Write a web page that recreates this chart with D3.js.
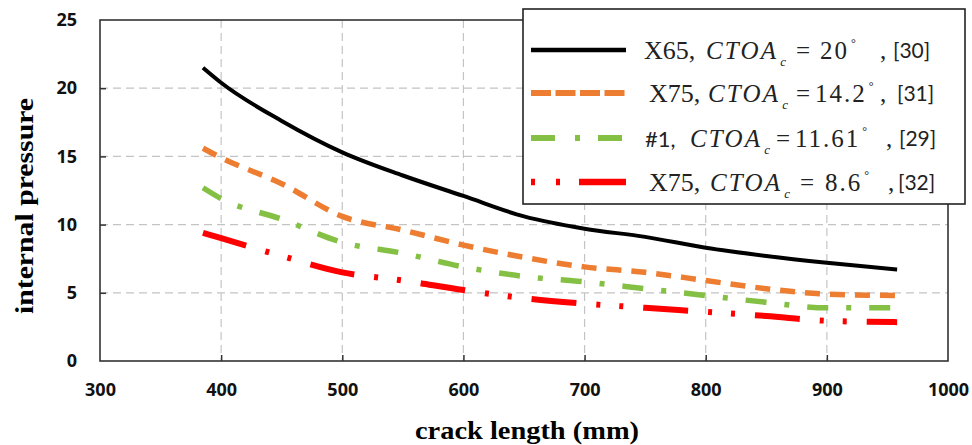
<!DOCTYPE html>
<html>
<head>
<meta charset="utf-8">
<script src="https://cdn.jsdelivr.net/npm/d3@7"></script>
<style>
  body { margin: 0; background: #fff; }
  svg { display: block; }
</style>
</head>
<body>
<div id="chart-area"></div>
<script>
// data
const crackLength = [385, 400, 450, 500, 550, 600, 650, 700, 750, 800, 850, 900, 958]
const x65Ctoa20 = [21.5, 20.4, 17.6, 15.3, 13.6, 12.1, 10.6, 9.7, 9.1, 8.3, 7.7, 7.2, 6.7]
const x75Ctoa142 = [15.6, 14.9, 13.0, 10.6, 9.6, 8.5, 7.6, 6.9, 6.5, 5.9, 5.3, 4.9, 4.8]
const no1Ctoa1161 = [12.7, 11.9, 10.4, 8.7, 7.9, 6.9, 6.2, 5.8, 5.3, 4.8, 4.3, 3.9, 3.9]
const x75Ctoa86 = [9.4, 9.0, 7.7, 6.5, 5.9, 5.2, 4.6, 4.2, 3.9, 3.6, 3.3, 2.95, 2.85]

const seriesNames = ["X65", "X75", "#1", "X75"]
const ctoaValues = ["20", "14.2", "11.61", "8.6"]
const refs = ["[30]", "[31]", "[29]", "[32]"]

const xTicks = [300, 400, 500, 600, 700, 800, 900, 1000]
const yTicks = [0, 5, 10, 15, 20, 25]

const MARGIN = { LEFT: 100, RIGHT: 24, TOP: 20, BOTTOM: 84 }
const WIDTH = 972 - MARGIN.LEFT - MARGIN.RIGHT
const HEIGHT = 445 - MARGIN.TOP - MARGIN.BOTTOM

const svg = d3.select("#chart-area").append("svg")
  .attr("width", 972)
  .attr("height", 445)

const g = svg.append("g")
  .attr("transform", `translate(${MARGIN.LEFT}, ${MARGIN.TOP})`)

const x = d3.scaleLinear().domain([300, 1000]).range([0, WIDTH])
const y = d3.scaleLinear().domain([0, 25]).range([HEIGHT, 0])

// grid
g.append("g").selectAll("line")
  .data(xTicks.filter(d => d > 300 && d < 1000))
  .enter().append("line")
  .attr("x1", d => x(d)).attr("x2", d => x(d))
  .attr("y1", 0).attr("y2", HEIGHT)
  .attr("stroke", "#c4c4c4").attr("stroke-width", 1.2)
  .attr("stroke-dasharray", "8,5")
g.append("g").selectAll("line")
  .data(yTicks.filter(d => d > 0 && d < 25))
  .enter().append("line")
  .attr("x1", 0).attr("x2", WIDTH)
  .attr("y1", d => y(d)).attr("y2", d => y(d))
  .attr("stroke", "#c4c4c4").attr("stroke-width", 1.2)
  .attr("stroke-dasharray", "8,5")

// axes
const xAxisCall = d3.axisBottom(x).tickValues(xTicks).tickFormat(d3.format("d"))
  .tickSizeInner(-6).tickSizeOuter(0).tickPadding(22)
const xAxis = g.append("g")
  .attr("transform", `translate(0, ${HEIGHT})`)
  .call(xAxisCall)
const yAxisCall = d3.axisLeft(y).tickValues(yTicks).tickSizeInner(-6).tickSizeOuter(0).tickPadding(23)
const yAxis = g.append("g").call(yAxisCall)

;[xAxis, yAxis].forEach(a => {
  a.select(".domain").remove()
  a.selectAll(".tick line").attr("stroke", "#333").attr("stroke-width", 1.5)
  a.selectAll("text")
    .attr("font-family", "'Open Sans', Lato, sans-serif")
    .attr("font-weight", "bold")
    .attr("font-size", "18px")
    .attr("fill", "#111")
})
xAxis.selectAll(".tick").filter(d => d === 300 || d === 1000).select("line").remove()
yAxis.selectAll(".tick").filter(d => d === 0 || d === 25).select("line").remove()

g.append("rect")
  .attr("width", WIDTH).attr("height", HEIGHT)
  .attr("fill", "none").attr("stroke", "#333").attr("stroke-width", 1.6)

// lines
const series = [
  { values: x65Ctoa20, color: "#000000", width: 4, dash: null, legendDash: null },
  { values: x75Ctoa142, color: "#ED7D31", width: 5.5, dash: "15,10", legendDash: "20,4.5" },
  { values: no1Ctoa1161, color: "#84C044", width: 5.5, dash: "21,18,5,18", legendDash: "24,20,5,18,24" },
  { values: x75Ctoa86, color: "#FF0000", width: 6, dash: "45,20,4,19,4,20", legendDash: "4,21,4,19,48" }
]

const line = d3.line()
  .x((d, i) => x(crackLength[i]))
  .y(d => y(d))
  .curve(d3.curveMonotoneX)

g.selectAll(".series")
  .data(series)
  .enter().append("path")
  .attr("class", "series")
  .attr("d", d => line(d.values))
  .attr("fill", "none")
  .attr("stroke", d => d.color)
  .attr("stroke-width", d => d.width)
  .attr("stroke-dasharray", d => d.dash)

// axis titles
svg.append("text")
  .attr("x", 527).attr("y", 439)
  .attr("text-anchor", "middle")
  .attr("font-family", "'Liberation Serif', 'Times New Roman', serif")
  .attr("font-weight", "bold")
  .attr("font-size", "26px")
  .attr("textLength", 224)
  .attr("lengthAdjust", "spacingAndGlyphs")
  .text("crack length (mm)")

svg.append("text")
  .attr("transform", "translate(33, 206) rotate(-90)")
  .attr("text-anchor", "middle")
  .attr("font-family", "'Liberation Serif', 'Times New Roman', serif")
  .attr("font-weight", "bold")
  .attr("font-size", "26px")
  .attr("textLength", 216)
  .attr("lengthAdjust", "spacingAndGlyphs")
  .text("internal pressure")

// legend
const legend = svg.append("g")
legend.append("rect")
  .attr("x", 523).attr("y", 9)
  .attr("width", 442).attr("height", 195)
  .attr("fill", "#fff").attr("stroke", "#222").attr("stroke-width", 1.6)

const rowY = [50, 93, 138, 182]
// x of: name, CTOA, "=", value, comma, reference
const rowCols = [
  [644, 706, 796, 820, 880, 893],
  [649, 708, 796, 815, 880, 897],
  [645, 690, 776, 795, 886, 899],
  [649, 710, 800, 825, 888, 898]
]
const serif = "'Liberation Serif', 'Times New Roman', serif"
const sans = "Lato, 'Open Sans', sans-serif"

series.forEach((s, i) => {
  legend.append("line")
    .attr("x1", 531).attr("x2", 626)
    .attr("y1", rowY[i]).attr("y2", rowY[i])
    .attr("stroke", s.color)
    .attr("stroke-width", s.width + 0.5)
    .attr("stroke-dasharray", s.legendDash)

  const c = rowCols[i]
  const base = rowY[i] + 9
  const row = legend.append("g").attr("fill", "#222")

  row.append("text")
    .attr("x", c[0]).attr("y", base)
    .attr("font-family", i === 2 ? sans : serif)
    .attr("font-size", i === 2 ? "22px" : "26px")
    .text(seriesNames[i] + ",")
  const ctoa = row.append("text")
    .attr("x", c[1]).attr("y", base)
    .attr("font-family", serif)
    .attr("font-size", "25px")
    .attr("font-style", "italic")
  ctoa.append("tspan")
    .attr("textLength", 70)
    .attr("lengthAdjust", "spacing")
    .text("CTOA")
  ctoa.append("tspan")
    .attr("dx", 2).attr("dy", 7)
    .attr("font-size", "13px")
    .text("c")
  row.append("text")
    .attr("x", c[2]).attr("y", base)
    .attr("font-family", serif)
    .attr("font-size", "25px")
    .text("=")
  const val = row.append("text")
    .attr("x", c[3]).attr("y", base)
    .attr("font-family", serif)
    .attr("font-size", "25px")
    .attr("letter-spacing", "2px")
  val.append("tspan").text(ctoaValues[i])
  val.append("tspan")
    .attr("dx", 2).attr("dy", -12)
    .attr("font-size", "12px")
    .text("°")
  row.append("text")
    .attr("x", c[4]).attr("y", base)
    .attr("font-family", serif)
    .attr("font-size", "25px")
    .text(",")
  row.append("text")
    .attr("x", c[5]).attr("y", base - 1)
    .attr("font-family", sans)
    .attr("font-size", "21px")
    .text(refs[i])
})
</script>
</body>
</html>
